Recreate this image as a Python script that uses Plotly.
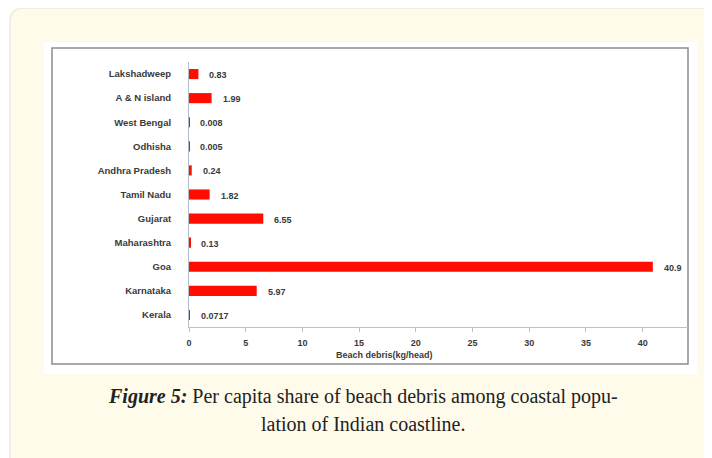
import plotly.graph_objects as go

# ── Data (bottom → top, as plotted) ───────────────────────────────────────────
states = ["Kerala", "Karnataka", "Goa", "Maharashtra", "Gujarat", "Tamil Nadu",
          "Andhra Pradesh", "Odhisha", "West Bengal", "A & N island", "Lakshadweep"]
debris = [0.0717, 5.97, 40.9, 0.13, 6.55, 1.82, 0.24, 0.005, 0.008, 1.99, 0.83]
debris_text = ["0.0717", "5.97", "40.9", "0.13", "6.55", "1.82", "0.24",
               "0.005", "0.008", "1.99", "0.83"]
x_ticks = [0, 5, 10, 15, 20, 25, 30, 35, 40]

# the page body has an 8px margin, so the figure starts at (8, 8) on screen
OFF = 8
W, H = 712 - OFF, 458 - OFF
# plot area in screen pixels
PLOT_L, PLOT_R, PLOT_T, PLOT_B = 189, 688, 62, 327
LABEL_FONT = dict(family="Liberation Sans", size=9, color="#3a3a3a", weight="bold")


def sx(v):
    """screen x pixel -> paper coordinate"""
    return (v - PLOT_L) / (PLOT_R - PLOT_L)


def sy(v):
    """screen y pixel -> paper coordinate"""
    return (PLOT_B - v) / (PLOT_B - PLOT_T)


fig = go.Figure(
    go.Bar(
        x=debris,
        y=states,
        orientation="h",
        marker=dict(color="#ff0d00", line=dict(width=0)),
        hoverinfo="skip",
    )
)

# value labels next to each bar
annotations = [
    dict(x=v, y=s, text=t, xref="x", yref="y", xanchor="left", yanchor="middle",
         xshift=9, yshift=-1, showarrow=False, font=LABEL_FONT)
    for s, v, t in zip(states, debris, debris_text)
]

# x axis title
annotations.append(dict(
    text="Beach debris(kg/head)", xref="paper", yref="paper",
    x=sx(384), y=sy(355), xanchor="center", yanchor="middle", showarrow=False,
    font=dict(family="Liberation Sans", size=9, color="#3a3a3a", weight="bold"),
))

# caption below the image
cap_font = dict(family="Liberation Serif", size=20, color="#222222")
annotations.append(dict(
    text="<b><i>Figure 5:</i></b> Per capita share of beach debris among coastal popu-",
    xref="paper", yref="paper", x=sx(363), y=sy(396),
    xanchor="center", yanchor="middle", showarrow=False, font=cap_font,
))
annotations.append(dict(
    text="lation of Indian coastline.",
    xref="paper", yref="paper", x=sx(363), y=sy(424),
    xanchor="center", yanchor="middle", showarrow=False, font=cap_font,
))


def rect_px(x0, y0, x1, y1, **kw):
    return dict(type="rect", xref="paper", yref="paper", layer="below",
                x0=sx(x0), x1=sx(x1), y0=sy(y0), y1=sy(y1), **kw)


# frame: cream panel with rounded corner, white picture, grey chart border
r = 14
panel_path = (
    f"M {sx(10)} {sy(480)} L {sx(10)} {sy(8 + r)} "
    f"Q {sx(10)} {sy(8)} {sx(10 + r)} {sy(8)} L {sx(740)} {sy(8)} "
    f"L {sx(740)} {sy(480)} Z"
)
shapes = [
    dict(type="path", path=panel_path, xref="paper", yref="paper", layer="below",
         fillcolor="#fffbea", line=dict(color="#ecebdc", width=1.5)),
    rect_px(44, 42, 697, 374, fillcolor="#ffffff", line=dict(width=0)),
    rect_px(52, 48, 688, 364, fillcolor="rgba(0,0,0,0)", line=dict(color="#8c8c8c", width=1.5)),
]

fig.update_layout(
    width=W, height=H, autosize=False,
    paper_bgcolor="#ffffff", plot_bgcolor="rgba(0,0,0,0)",
    margin=dict(l=PLOT_L - OFF, r=W - (PLOT_R - OFF), t=PLOT_T - OFF,
                b=H - (PLOT_B - OFF), pad=0),
    showlegend=False,
    bargap=0.58,
    xaxis=dict(
        range=[0, 44], tickvals=x_ticks, showgrid=False, zeroline=False,
        showline=True, linecolor="#bfbfbf", linewidth=1,
        ticks="outside", ticklen=4, tickcolor="#bfbfbf",
        tickfont=LABEL_FONT, ticklabelstandoff=3,
    ),
    yaxis=dict(
        showgrid=False, zeroline=False, showline=True, linecolor="#b4bccc", linewidth=1,
        ticks="",
        tickfont=dict(family="Liberation Sans", size=9.5, color="#3a3a3a", weight="bold"),
        ticklabelstandoff=15,
    ),
    annotations=annotations,
    shapes=shapes,
)

fig.write_html("out.html")
